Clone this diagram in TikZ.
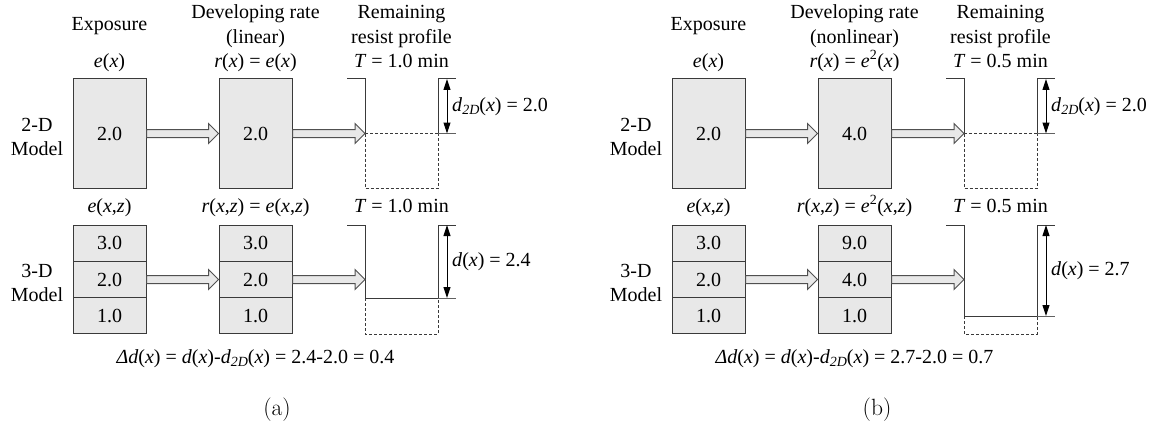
\documentclass[tikz,border=0pt]{standalone}
\usepackage{fontspec}
\newfontfamily\tms{Liberation Serif}
\usetikzlibrary{arrows.meta}
\definecolor{boxfill}{HTML}{E8E8E8}
\definecolor{edge}{HTML}{3A3A3A}
\definecolor{arredge}{HTML}{505050}
\newcommand\iv[1]{\textit{#1}}
\newcommand\sub[1]{\raisebox{-3.5pt}{\fontsize{14}{16}\selectfont\itshape #1}}
\newcommand\fatarrow[2]{%
  \draw[fat] ([yshift=4pt]#1.east) -- ([xshift=-10pt,yshift=4pt]#2)
    -- ([xshift=-10pt,yshift=10pt]#2) -- (#2)
    -- ([xshift=-10pt,yshift=-10pt]#2) -- ([xshift=-10pt,yshift=-4pt]#2)
    -- ([yshift=-4pt]#1.east) -- cycle;}
\tikzset{
  lbl/.style={font=\tms\fontsize{20}{24}\selectfont, inner sep=0pt},
  box/.style={draw=edge, fill=boxfill, line width=1pt, inner sep=0pt,
    minimum width=73pt, minimum height=109pt, font=\tms\fontsize{20}{24}\selectfont},
  cell/.style={box, minimum height=36.33pt},
  wall/.style={draw=edge, line width=1pt},
  hidden/.style={draw=edge, line width=0.9pt, dash pattern=on 3pt off 2pt},
  tick/.style={draw=edge!80, line width=1pt},
  dim/.style={draw=black, line width=1pt, {Triangle[length=11pt,width=7pt]}-{Triangle[length=11pt,width=7pt]}},
  fat/.style={draw=arredge, fill=boxfill, line width=1pt},
  subcap/.style={font=\fontsize{23.5}{28}\selectfont, inner sep=0pt},
}
\begin{document}
\begin{tikzpicture}[x=1pt, y=-1pt]
\useasboundingbox (0,0) rectangle (1165,428);

% ---------------- panel (a): linear developing rate ----------------
% column headings
\node[lbl, anchor=base] (a-h1) at (109.5,31) {Exposure};
\node[lbl, anchor=base] (a-h2) at (255.5,19) {Developing rate};
\node[lbl, anchor=base] (a-h3) at (255.5,44) {(linear)};
\node[lbl, anchor=base] (a-h4) at (401.5,19) {Remaining};
\node[lbl, anchor=base] (a-h5) at (401.5,44) {resist profile};
\node[lbl, anchor=base] (a-f1) at (109.5,67) {\iv{e}(\iv{x})};
\node[lbl, anchor=base] (a-f2) at (255.5,67) {\iv{r}(\iv{x}) = \iv{e}(\iv{x})};
\node[lbl, anchor=base] (a-f3) at (401.5,67) {\iv{T} = 1.0 min};
\node[lbl, anchor=base] (a-g1) at (109.5,212) {\iv{e}(\iv{x},\iv{z})};
\node[lbl, anchor=base] (a-g2) at (255.5,212) {\iv{r}(\iv{x},\iv{z}) = \iv{e}(\iv{x},\iv{z})};
\node[lbl, anchor=base] (a-g3) at (401.5,212) {\iv{T} = 1.0 min};
% row labels
\node[lbl, anchor=base] (a-m1) at (37,131) {2-D};
\node[lbl, anchor=base] (a-m2) at (37,155) {Model};
\node[lbl, anchor=base] (a-m3) at (37,277) {3-D};
\node[lbl, anchor=base] (a-m4) at (37,301) {Model};
% 2-D model
\node[box] (a-e2) at (109.5,133.5) {2.0};
\node[box] (a-r2) at (255.5,133.5) {2.0};
\coordinate (a-p2) at (365,133.5);
\draw[hidden] (365,133.5) -- (438,133.5);
\draw[hidden] (365,133.5) -- (365,188) -- (438,188) -- (438,133.5);
\draw[wall] (347,79) -- (365,79) -- (365,133.5);
\draw[wall] (438,133.5) -- (438,79) -- (456,79);
\draw[tick] (438,133.5) -- (456,133.5);
\draw[dim] (447,79) -- (447,133.5);
\node[lbl, anchor=west] (a-d2) at (452,106.5) {\iv{d}\sub{2D}(\iv{x}) = 2.0};
\fatarrow{a-e2}{a-r2.west}
\fatarrow{a-r2}{a-p2}
% 3-D model
\node[cell] (a-e3a) at (109.5,243.17) {3.0};
\node[cell] (a-e3b) at (109.5,279.5) {2.0};
\node[cell] (a-e3c) at (109.5,315.83) {1.0};
\node[cell] (a-r3a) at (255.5,243.17) {3.0};
\node[cell] (a-r3b) at (255.5,279.5) {2.0};
\node[cell] (a-r3c) at (255.5,315.83) {1.0};
\coordinate (a-p3) at (365,279.5);
\draw[hidden] (365,298) -- (365,334) -- (438,334) -- (438,298);
\draw[wall] (347,225) -- (365,225) -- (365,298) -- (438,298) -- (438,225) -- (456,225);
\draw[tick] (438,298) -- (456,298);
\draw[dim] (447,225) -- (447,298);
\node[lbl, anchor=west] (a-d3) at (452,261.5) {\iv{d}(\iv{x}) = 2.4};
\fatarrow{a-e3b}{a-r3b.west}
\fatarrow{a-r3b}{a-p3}
% difference and caption
\node[lbl, anchor=base] (a-dd) at (255.5,363) {\iv{Δd}(\iv{x}) = \iv{d}(\iv{x})-\iv{d}\sub{2D}(\iv{x}) = 2.4-2.0 = 0.4};
\node[subcap] (a-cap) at (277,410) {(a)};

% ---------------- panel (b): nonlinear developing rate ----------------
\node[lbl, anchor=base] (b-h1) at (708.5,31) {Exposure};
\node[lbl, anchor=base] (b-h2) at (854.5,19) {Developing rate};
\node[lbl, anchor=base] (b-h3) at (854.5,44) {(nonlinear)};
\node[lbl, anchor=base] (b-h4) at (1000.5,19) {Remaining};
\node[lbl, anchor=base] (b-h5) at (1000.5,44) {resist profile};
\node[lbl, anchor=base] (b-f1) at (708.5,67) {\iv{e}(\iv{x})};
\node[lbl, anchor=base] (b-f2) at (854.5,67) {\iv{r}(\iv{x}) = \iv{e}\textsuperscript{2}(\iv{x})};
\node[lbl, anchor=base] (b-f3) at (1000.5,67) {\iv{T} = 0.5 min};
\node[lbl, anchor=base] (b-g1) at (708.5,212) {\iv{e}(\iv{x},\iv{z})};
\node[lbl, anchor=base] (b-g2) at (854.5,212) {\iv{r}(\iv{x},\iv{z}) = \iv{e}\textsuperscript{2}(\iv{x},\iv{z})};
\node[lbl, anchor=base] (b-g3) at (1000.5,212) {\iv{T} = 0.5 min};
\node[lbl, anchor=base] (b-m1) at (636,131) {2-D};
\node[lbl, anchor=base] (b-m2) at (636,155) {Model};
\node[lbl, anchor=base] (b-m3) at (636,277) {3-D};
\node[lbl, anchor=base] (b-m4) at (636,301) {Model};
% 2-D model
\node[box] (b-e2) at (708.5,133.5) {2.0};
\node[box] (b-r2) at (854.5,133.5) {4.0};
\coordinate (b-p2) at (964,133.5);
\draw[hidden] (964,133.5) -- (1037,133.5);
\draw[hidden] (964,133.5) -- (964,188) -- (1037,188) -- (1037,133.5);
\draw[wall] (946,79) -- (964,79) -- (964,133.5);
\draw[wall] (1037,133.5) -- (1037,79) -- (1055,79);
\draw[tick] (1037,133.5) -- (1055,133.5);
\draw[dim] (1046,79) -- (1046,133.5);
\node[lbl, anchor=west] (b-d2) at (1051,106.5) {\iv{d}\sub{2D}(\iv{x}) = 2.0};
\fatarrow{b-e2}{b-r2.west}
\fatarrow{b-r2}{b-p2}
% 3-D model
\node[cell] (b-e3a) at (708.5,243.17) {3.0};
\node[cell] (b-e3b) at (708.5,279.5) {2.0};
\node[cell] (b-e3c) at (708.5,315.83) {1.0};
\node[cell] (b-r3a) at (854.5,243.17) {9.0};
\node[cell] (b-r3b) at (854.5,279.5) {4.0};
\node[cell] (b-r3c) at (854.5,315.83) {1.0};
\coordinate (b-p3) at (964,279.5);
\draw[hidden] (964,316) -- (964,334) -- (1037,334) -- (1037,316);
\draw[wall] (946,225) -- (964,225) -- (964,316) -- (1037,316) -- (1037,225) -- (1055,225);
\draw[tick] (1037,316) -- (1055,316);
\draw[dim] (1046,225) -- (1046,316);
\node[lbl, anchor=west] (b-d3) at (1051,270.5) {\iv{d}(\iv{x}) = 2.7};
\fatarrow{b-e3b}{b-r3b.west}
\fatarrow{b-r3b}{b-p3}
\node[lbl, anchor=base] (b-dd) at (854.5,363) {\iv{Δd}(\iv{x}) = \iv{d}(\iv{x})-\iv{d}\sub{2D}(\iv{x}) = 2.7-2.0 = 0.7};
\node[subcap] (b-cap) at (877,410) {(b)};
\end{tikzpicture}
\end{document}
